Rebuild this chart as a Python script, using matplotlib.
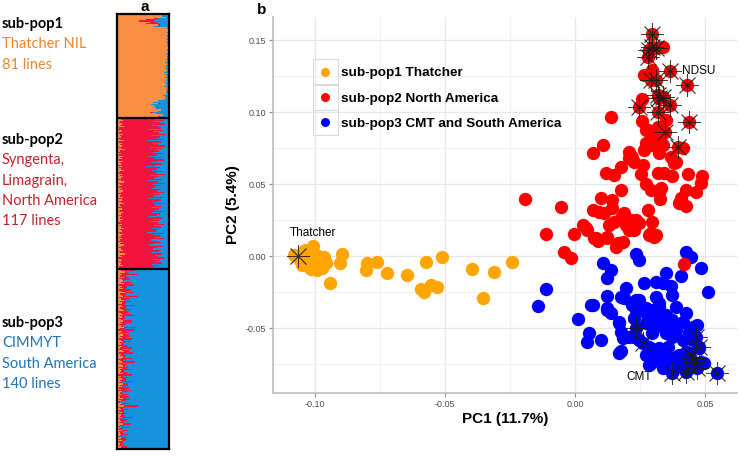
import numpy as np
import matplotlib
matplotlib.use("Agg")
import matplotlib.pyplot as plt
from matplotlib.lines import Line2D
from matplotlib.patches import Rectangle

# ---------------- Panel a: admixture proportions (percent) ----------------
pop1_red = [0, 0, 2, 6, 18, 30, 12, 22, 3, 0,
            0, 0, 0, 0, 0, 0, 0, 0, 0, 0,
            0, 0, 0, 0, 0, 0, 0, 0, 0, 0,
            0, 0, 0, 0, 0, 0, 0, 0, 0, 0,
            0, 0, 0, 0, 0, 0, 0, 0, 0, 0,
            0, 0, 0, 0, 0, 0, 0, 0, 0, 0,
            0, 0, 0, 0, 0, 0, 0, 0, 0, 3,
            0, 0, 5, 0, 0, 0, 6, 0, 0, 4, 0]
pop1_blue = [6, 14, 4, 22, 26, 28, 24, 22, 18, 28,
             4, 3, 2, 2, 3, 2, 5, 3, 2, 3,
             2, 3, 4, 2, 3, 2, 2, 4, 3, 2,
             3, 5, 2, 4, 3, 6, 3, 8, 4, 3,
             5, 4, 7, 3, 6, 9, 4, 5, 3, 7,
             4, 6, 3, 8, 5, 4, 10, 3, 5, 4,
             6, 4, 5, 12, 8, 6, 10, 22, 30, 18,
             35, 28, 20, 26, 15, 22, 30, 25, 12, 18, 8]

pop2_orange = [8, 12, 5, 3, 10, 6, 14, 4, 2, 9, 7, 3, 11, 5, 8, 2, 6, 13, 4, 9,
               5, 10, 3, 7, 15, 6, 2, 8, 4, 11, 6, 9, 3, 12, 5, 7, 2, 10, 4, 8,
               14, 6, 3, 9, 5, 11, 7, 2, 8, 13, 4, 6, 10, 3, 9, 5, 12, 7, 2, 8,
               6, 11, 4, 9, 3, 7, 13, 5, 8, 2, 10, 6, 4, 12, 7, 3, 9, 5, 11, 6,
               8, 2, 10, 4, 7, 14, 5, 9, 3, 6, 12, 8, 4, 10, 6, 2, 9, 5, 13, 7,
               3, 8, 11, 4, 6, 15, 5, 9, 2, 7, 10, 4, 8, 6, 12, 3, 9]
pop2_blue = [25, 10, 30, 18, 8, 35, 22, 15, 40, 12, 28, 20, 6, 33, 18, 25, 10, 42, 15, 30,
             22, 8, 36, 14, 26, 19, 31, 11, 24, 38, 16, 29, 9, 21, 34, 13, 27, 44, 17, 23,
             32, 12, 25, 7, 36, 19, 28, 14, 40, 22, 10, 30, 18, 26, 35, 15, 24, 9, 33, 20,
             28, 12, 38, 16, 22, 30, 8, 26, 14, 35, 20, 27, 11, 32, 18, 24, 40, 13, 29, 17,
             36, 22, 10, 28, 15, 33, 19, 25, 42, 12, 30, 18, 26, 9, 34, 21, 15, 28, 38, 11,
             24, 31, 16, 20, 35, 13, 27, 22, 10, 30, 18, 25, 14, 32, 20, 28, 16]

pop3_orange = [12, 8, 15, 5, 10, 6, 14, 3, 9, 11, 7, 13, 4, 10, 6, 12, 3, 8, 15, 5,
               9, 11, 4, 7, 13, 6, 10, 2, 8, 12, 5, 9, 14, 3, 7, 11, 6, 10, 4, 8,
               12, 5, 9, 3, 7, 13, 6, 2, 10, 8, 4, 11, 6, 9, 3, 7, 12, 5, 8, 2,
               10, 6, 4, 9, 13, 3, 7, 5, 11, 8, 2, 6, 10, 4, 7, 12, 3, 9, 5, 8,
               6, 11, 2, 7, 4, 10, 5, 8, 3, 12, 6, 9, 4, 7, 2, 10, 5, 8, 3, 6,
               11, 4, 7, 2, 9, 5, 13, 3, 6, 8, 4, 10, 2, 7, 5, 9, 3, 6, 8, 4,
               11, 5, 2, 7, 4, 9, 3, 6, 8, 5, 2, 7, 4, 10, 3, 6, 5, 3, 8, 4]
pop3_red = [10, 25, 5, 18, 30, 12, 8, 22, 15, 3, 20, 6, 28, 10, 14, 4, 24, 9, 18, 12,
            6, 30, 10, 16, 2, 22, 8, 14, 26, 5, 12, 18, 4, 20, 9, 15, 28, 6, 11, 3,
            17, 24, 8, 13, 5, 21, 10, 30, 7, 16, 4, 12, 19, 8, 25, 6, 14, 10, 3, 18,
            9, 22, 5, 15, 11, 27, 7, 13, 4, 20, 16, 8, 24, 6, 12, 3, 18, 10, 22, 5,
            14, 9, 26, 4, 17, 7, 12, 20, 6, 10, 15, 3, 19, 8, 24, 11, 5, 13, 9, 17,
            6, 21, 10, 4, 14, 8, 28, 12, 5, 16, 9, 3, 18, 7, 11, 22, 6, 13, 4, 10,
            15, 8, 3, 19, 6, 12, 9, 5, 14, 7, 4, 11, 16, 6, 9, 3, 8, 5, 12, 4]

panel_a_titles = ["sub-pop1", "sub-pop2", "sub-pop3"]
panel_a_desc = [["Thatcher NIL", "81 lines"],
                ["Syngenta,", "Limagrain,", "North America", "117 lines"],
                ["CIMMYT", "South America", "140 lines"]]

# ---------------- Panel b: PCA coordinates ----------------
orange_x = [-0.1081, -0.1065, -0.1007, -0.1030, -0.1049, -0.1023, -0.0991, -0.0978, -0.0965, -0.0997,
            -0.0972, -0.0895, -0.0904, -0.0942, -0.0799, -0.0805, -0.0764, -0.0722, -0.0645, -0.0574,
            -0.0514, -0.0593, -0.0555, -0.0530, -0.0583, -0.0395, -0.0354, -0.0314, -0.0243,
            -0.1045, -0.1010, -0.1000, -0.1035, -0.0985, -0.1060, -0.1015, -0.0960, -0.1040, -0.0990,
            -0.1050, -0.1025]
orange_y = [0.0007, 0.0000, 0.0069, -0.0005, -0.0063, -0.0074, -0.0097, -0.0028, -0.0009, -0.0051,
            -0.0085, 0.0012, -0.0051, -0.0185, -0.0051, -0.0097, -0.0040, -0.0116, -0.0132, -0.0040,
            -0.0009, -0.0231, -0.0201, -0.0213, -0.0248, -0.0090, -0.0290, -0.0109, -0.0040,
            0.0030, 0.0015, -0.0030, -0.0040, -0.0060, -0.0030, -0.0090, -0.0050, 0.0040, 0.0000,
            -0.0010, 0.0020]

red_x = [0.0297, 0.0336, 0.0297, 0.0285, 0.0278, 0.0310, 0.0297, 0.0265, 0.0291, 0.0310,
         0.0365, 0.0428, 0.0257, 0.0317, 0.0336, 0.0323, 0.0246, 0.0317, 0.0365, 0.0438,
         0.0137, 0.0257, 0.0349, 0.0317, 0.0278, 0.0346, 0.0397, 0.0413, 0.0317, 0.0291,
         0.0323, 0.0272, 0.0297, 0.0336, 0.0067, 0.0105, 0.0208, 0.0220, 0.0265, 0.0323,
         0.0368, 0.0381, 0.0176, 0.0118, 0.0150, 0.0253, 0.0317, 0.0342, 0.0374, 0.0432,
         0.0487, 0.0272, 0.0310, 0.0330, 0.0208, 0.0227, 0.0259, 0.0387, 0.0483, 0.0272,
         0.0291, 0.0330, 0.0426, 0.0464, 0.0176, 0.0327, 0.0407, 0.0400, 0.0426, -0.0192,
         -0.0055, 0.0099, 0.0141, 0.0067, 0.0092, 0.0112, 0.0143, 0.0188, 0.0176, 0.0150,
         0.0131, 0.0028, 0.0041, 0.0214, 0.0233, 0.0246, 0.0195, 0.0214, 0.0227, 0.0208,
         0.0278, 0.0297, 0.0291, 0.0310, -0.0113, -0.0004, 0.0073, 0.0086, 0.0124, 0.0163,
         0.0182, 0.0157, -0.0042, -0.0017, 0.0047, 0.0080, 0.0124, 0.0285, 0.0304, 0.0417]
red_y = [0.1542, 0.1453, 0.1453, 0.1431, 0.1384, 0.1442, 0.1292, 0.1257, 0.1222, 0.1222,
         0.1287, 0.1188, 0.1088, 0.1118, 0.1106, 0.1095, 0.1033, 0.1002, 0.1049, 0.0933,
         0.0967, 0.0938, 0.0944, 0.0898, 0.0875, 0.0863, 0.0759, 0.0748, 0.0852, 0.0828,
         0.0806, 0.0783, 0.0771, 0.0771, 0.0713, 0.0771, 0.0724, 0.0690, 0.0736, 0.0713,
         0.0690, 0.0644, 0.0620, 0.0574, 0.0563, 0.0569, 0.0574, 0.0574, 0.0556, 0.0569,
         0.0556, 0.0875, 0.0817, 0.0794, 0.0683, 0.0655, 0.0632, 0.0655, 0.0505, 0.0498,
         0.0458, 0.0470, 0.0458, 0.0447, 0.0458, 0.0396, 0.0401, 0.0366, 0.0349, 0.0396,
         0.0342, 0.0401, 0.0389, 0.0319, 0.0308, 0.0297, 0.0331, 0.0297, 0.0262, 0.0238,
         0.0215, 0.0215, 0.0192, 0.0250, 0.0250, 0.0227, 0.0215, 0.0192, 0.0181, 0.0181,
         0.0319, 0.0238, 0.0158, 0.0146, 0.0151, 0.0151, 0.0123, 0.0104, 0.0123, 0.0088,
         0.0099, 0.0065, 0.0030, -0.0016, 0.0181, 0.0123, 0.0134, 0.0146, 0.0134, -0.0058]

blue_x = [0.0233, 0.0246, 0.0426, 0.0445, 0.0105, 0.0137, 0.0124, 0.0349, 0.0407, 0.0483,
          -0.0113, 0.0195, 0.0265, 0.0310, 0.0336, 0.0368, 0.0509, 0.0374, 0.0124, 0.0176,
          0.0188, 0.0233, 0.0310, 0.0323, -0.0145, 0.0067, 0.0124, 0.0220, 0.0272, 0.0387,
          0.0009, 0.0054, 0.0047, 0.0099, 0.0169, 0.0176, 0.0182, 0.0169, 0.0176, 0.0285,
          0.0233, 0.0259, 0.0323, 0.0317, 0.0349, 0.0374, 0.0426, 0.0470, 0.0547, 0.0438,
          0.0464, 0.0477, 0.0458, 0.0060, 0.0124, 0.0137, 0.0167, 0.0227, 0.0233, 0.0272,
          0.0297, 0.0323, 0.0349, 0.0374, 0.0426, 0.0413, 0.0272, 0.0310, 0.0336, 0.0297,
          0.0349, 0.0387, 0.0374, 0.0208, 0.0285, 0.0310, 0.0336, 0.0355, 0.0291, 0.0310,
          0.0349, 0.0374, 0.0400, 0.0426, 0.0451, 0.0470, 0.0438, 0.0451, 0.0477, 0.0483,
          0.0496, 0.0400, 0.0426, 0.0451, 0.0336, 0.0246, 0.0285, 0.0323, 0.0362, 0.0246,
          0.0272, 0.0413, 0.0323]
blue_y = [0.0012, -0.0028, 0.0030, -0.0005, -0.0051, -0.0097, -0.0155, -0.0120, -0.0137, -0.0085,
          -0.0229, -0.0220, -0.0190, -0.0178, -0.0190, -0.0208, -0.0248, -0.0271, -0.0276, -0.0283,
          -0.0294, -0.0306, -0.0283, -0.0328, -0.0345, -0.0340, -0.0359, -0.0340, -0.0363, -0.0352,
          -0.0440, -0.0537, -0.0595, -0.0583, -0.0456, -0.0526, -0.0572, -0.0676, -0.0658, -0.0757,
          -0.0502, -0.0606, -0.0641, -0.0699, -0.0722, -0.0815, -0.0803, -0.0780, -0.0810, -0.0676,
          -0.0560, -0.0630, -0.0734, -0.0340, -0.0375, -0.0398, -0.0463, -0.0433, -0.0375, -0.0398,
          -0.0375, -0.0352, -0.0410, -0.0444, -0.0398, -0.0456, -0.0467, -0.0479, -0.0491, -0.0537,
          -0.0537, -0.0514, -0.0560, -0.0560, -0.0630, -0.0653, -0.0676, -0.0630, -0.0745, -0.0722,
          -0.0734, -0.0710, -0.0688, -0.0665, -0.0491, -0.0479, -0.0526, -0.0583, -0.0641, -0.0734,
          -0.0745, -0.0757, -0.0745, -0.0769, -0.0780, -0.0306, -0.0433, -0.0410, -0.0479, -0.0583,
          -0.0688, -0.0583, 0.0447]

ndsu_x = [0.0297, 0.0297, 0.0285, 0.0278, 0.0310, 0.0291, 0.0310, 0.0365, 0.0428, 0.0317,
          0.0336, 0.0323, 0.0246, 0.0317, 0.0365, 0.0438, 0.0346, 0.0397]
ndsu_y = [0.1542, 0.1453, 0.1431, 0.1384, 0.1442, 0.1222, 0.1222, 0.1287, 0.1188, 0.1118,
          0.1106, 0.1095, 0.1033, 0.1002, 0.1049, 0.0933, 0.0863, 0.0759]
cmt_x = [0.0233, 0.0259, 0.0374, 0.0426, 0.0470, 0.0547, 0.0438, 0.0464, 0.0477, 0.0458, 0.0451]
cmt_y = [-0.0502, -0.0606, -0.0815, -0.0803, -0.0780, -0.0810, -0.0676, -0.0560, -0.0630, -0.0734, -0.0710]
thatcher_x = [-0.1065]
thatcher_y = [0.0000]

legend_labels = ["sub-pop1 Thatcher", "sub-pop2 North America", "sub-pop3 CMT and South America"]
x_ticks = [-0.10, -0.05, 0.00, 0.05]
y_ticks = [-0.05, 0.00, 0.05, 0.10, 0.15]

# ---------------- figure ----------------
W, H = 740, 457
fig = plt.figure(figsize=(W / 100, H / 100), dpi=100)
fig.patch.set_facecolor("white")

C_OR, C_RD, C_BL = "#FA8E42", "#F2143F", "#1592DD"

# ---- panel a ----
axa = fig.add_axes([117 / W, (H - 449) / H, 52 / W, 435 / H])
orange_all = (list(100 - np.array(pop1_red) - np.array(pop1_blue))
              + pop2_orange + pop3_orange)
red_all = (pop1_red + list(100 - np.array(pop2_orange) - np.array(pop2_blue))
           + pop3_red)
orange_all = np.array(orange_all, dtype=float) / 100
red_all = np.array(red_all, dtype=float) / 100
blue_all = 1 - orange_all - red_all
n = len(orange_all)
rows = np.arange(n)
kw = dict(height=1.0, linewidth=0, antialiased=False)
axa.barh(rows, orange_all, left=0, color=C_OR, **kw)
axa.barh(rows, red_all, left=orange_all, color=C_RD, **kw)
axa.barh(rows, blue_all, left=orange_all + red_all, color=C_BL, **kw)
axa.set_xlim(0, 1)
axa.set_ylim(n - 0.5, -0.5)
axa.set_xticks([])
axa.set_yticks([])
for s in axa.spines.values():
    s.set_linewidth(1.6)
    s.set_color("black")
b1 = len(pop1_red) - 0.5
b2 = len(pop1_red) + len(pop2_orange) - 0.5
axa.axhline(b1, color="black", lw=1.6)
axa.axhline(b2, color="black", lw=1.6)

fam_a = ["Lato", "DejaVu Sans"]
txt_cols = ["#F0852F", "#C0242B", "#1F74BB"]
title_y = [24, 140, 323]
for t, desc, y0, col in zip(panel_a_titles, panel_a_desc, title_y, txt_cols):
    fig.text(2 / W, 1 - y0 / H, t, fontsize=10.5, fontweight="bold", family=fam_a,
             color="black", va="center", ha="left")
    for i, d in enumerate(desc):
        fig.text(2 / W, 1 - (y0 + 20.3 * (i + 1)) / H, d, fontsize=10.5, family=fam_a,
                 color=col, va="center", ha="left")

fig.text(145 / W, 1 - 7 / H, "a", fontsize=11, fontweight="bold", ha="center", va="center",
         family=["Liberation Sans"])
fig.text(262 / W, 1 - 10 / H, "b", fontsize=11, fontweight="bold", ha="center", va="center",
         family=["Liberation Sans"])

# ---- panel b ----
plt.rcParams["font.family"] = ["Liberation Sans", "DejaVu Sans"]
axb = fig.add_axes([273 / W, (H - 393) / H, 464 / W, 376 / H])
axb.set_xlim(-0.1162, 0.0622)
axb.set_ylim(-0.0951, 0.1660)
axb.set_xticks(x_ticks)
axb.set_xticklabels([f"{v:.2f}" for v in x_ticks])
axb.set_yticks(y_ticks)
axb.set_yticklabels([f"{v:.2f}" for v in y_ticks])
axb.set_xticks([-0.075, -0.025, 0.025], minor=True)
axb.set_yticks([-0.075, -0.025, 0.025, 0.075, 0.125], minor=True)
axb.grid(True, which="major", color="#E6E6E6", lw=0.9)
axb.grid(True, which="minor", color="#F2F2F2", lw=0.8)
axb.set_axisbelow(True)
axb.tick_params(which="major", length=3, width=0.8, color="#8C8C8C", labelsize=6.5,
                labelcolor="#4D4D4D", pad=2)
axb.tick_params(which="minor", length=0)
for side in ["top", "right"]:
    axb.spines[side].set_visible(False)
for side in ["left", "bottom"]:
    axb.spines[side].set_color("#BDBDBD")
    axb.spines[side].set_linewidth(1.2)

ms = 9.6
axb.plot(orange_x, orange_y, "o", color="#FFA500", ms=ms, mew=0, ls="")
axb.plot(blue_x, blue_y, "o", color="#0000FF", ms=ms, mew=0, ls="")
axb.plot(red_x, red_y, "o", color="#FF0000", ms=ms, mew=0, ls="")
star_kw = dict(marker=(8, 2, 0), ms=16, mew=0.6, color="#1A1A1A", ls="", alpha=0.85)
axb.plot(ndsu_x, ndsu_y, **star_kw)
axb.plot(cmt_x, cmt_y, **star_kw)
axb.plot(thatcher_x, thatcher_y, **star_kw)

axb.text(-0.1096, 0.0160, "Thatcher", fontsize=8.5, ha="left", va="center")
axb.text(0.0410, 0.1287, "NDSU", fontsize=8.5, ha="left", va="center")
axb.text(0.0195, -0.0838, "CMT", fontsize=8.5, ha="left", va="center")

axb.set_xlabel("PC1 (11.7%)", fontsize=11, fontweight="bold", labelpad=2)
axb.set_ylabel("PC2 (5.4%)", fontsize=11, fontweight="bold", labelpad=4)

handles = [Line2D([], [], marker="o", ls="", color=c, ms=6.5, mew=0)
           for c in ["#FFA500", "#FF0000", "#0000FF"]]
leg = axb.legend(handles, legend_labels, loc="upper left",
                 bbox_to_anchor=((313 - 273) / 464, (393 - 67) / 376),
                 frameon=False, prop={"weight": "bold", "size": 9.7},
                 handlelength=1.85, handletextpad=0.2, labelspacing=0.96,
                 borderpad=0, borderaxespad=0)
fig.canvas.draw()
renderer = fig.canvas.get_renderer()
for h in leg.legend_handles:
    bb = h.get_window_extent(renderer)
    cx, cy = (bb.x0 + bb.x1) / 2, (bb.y0 + bb.y1) / 2
    r = Rectangle((cx - 12.8, cy - 12.8), 25.6, 25.6, transform=None, fill=False,
                  edgecolor="#DADADA", lw=0.8, zorder=5)
    fig.add_artist(r)

fig.savefig("out.png", dpi=100, facecolor="white")
